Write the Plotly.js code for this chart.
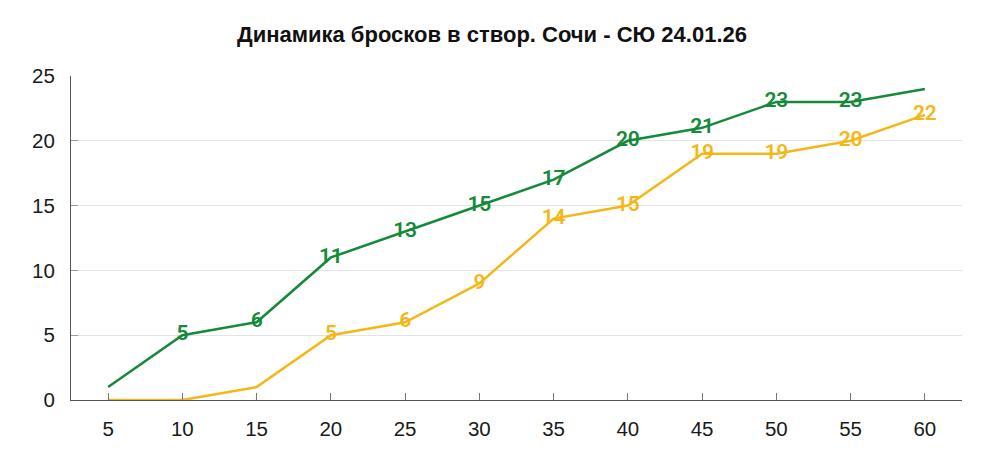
<!DOCTYPE html>
<html><head><meta charset="utf-8">
<script src="https://cdn.plot.ly/plotly-3.0.1.min.js"></script>
<style>html,body{margin:0;padding:0;background:#fff}#c{width:984px;height:460px}</style>
</head><body><div id="c"></div>
<script>
const minutes = ['5','10','15','20','25','30','35','40','45','50','55','60'];
const sochi = [1,5,6,11,13,15,17,20,21,23,23,24];
const skaUnost = [0,0,1,5,6,9,14,15,19,19,20,22];
const sochiLabelShown = [false,true,true,true,true,true,true,true,true,true,true,false];
const skaLabelShown = [false,false,false,true,true,true,true,true,true,true,true,true];
const yTicks = [0,5,10,15,20,25];
const titleText = 'Динамика бросков в створ. Сочи - СЮ 24.01.26';

const green = '#158a3b', yellow = '#f4b718';
function mk(vals, shown, color, name){
  return {x: minutes, y: vals, type:'scatter', mode:'lines+text', name,
    line:{color, width:2.5},
    text: vals.map((v,i)=> shown[i] ? String(v) : ''),
    textposition:'middle center',
    textfont:{family:'Roboto, sans-serif', size:21, color, weight:600},
    cliponaxis:false, hoverinfo:'skip'};
}
const data = [mk(skaUnost, skaLabelShown, yellow, 'СЮ'), mk(sochi, sochiLabelShown, green, 'Сочи')];
const tf = {family:'Liberation Sans, Arial, sans-serif', size:20.5, color:'#1a1a1a'};
const layout = {
  width:984, height:460,
  margin:{l:71, r:22, t:76, b:60},
  paper_bgcolor:'#fff', plot_bgcolor:'#fff',
  showlegend:false,
  title:{text:titleText, x:0.5, xanchor:'center', y:0.925, yanchor:'middle',
    font:{family:'Liberation Sans, Arial, sans-serif', size:22, color:'#111', weight:'bold'}},
  xaxis:{type:'category', range:[-0.5, minutes.length-0.5], showgrid:false, showline:true, linecolor:'#555', linewidth:1,
    ticks:'inside', ticklen:7, tickcolor:'#777', zeroline:false, ticklabelstandoff:10,
    tickfont:tf},
  yaxis:{range:[0,25], tickvals:yTicks, showgrid:true, gridcolor:'#e3e3e3', gridwidth:1,
    showline:true, linecolor:'#555', linewidth:1, ticks:'inside', ticklen:7, tickcolor:'#999',
    zeroline:false, ticklabelstandoff:11,
    tickfont:tf}
};
Plotly.newPlot('c', data, layout, {displayModeBar:false, staticPlot:true});
</script></body></html>
